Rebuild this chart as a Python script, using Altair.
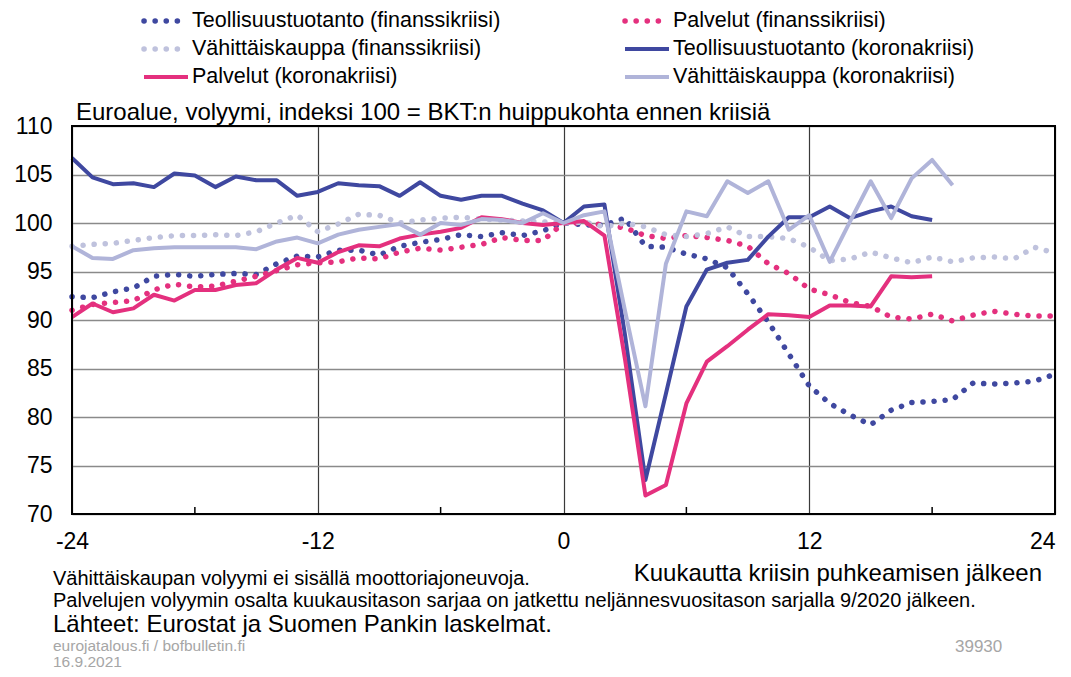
import altair as alt
import pandas as pd

FONT = "Liberation Sans"

# ---------------- data ----------------
months_fin = list(range(-24, 25))
months_teoll_kor = list(range(-24, 19))
months_pal_kor = list(range(-24, 19))
months_vah_kor = list(range(-24, 20))

teoll_fin = [92.4, 92.3, 92.9, 93.3, 94.5, 94.7, 94.5, 94.7, 94.8, 94.7, 95.8, 96.6, 96.5,
             97.2, 97.2, 96.7, 97.6, 98.0, 98.3, 98.8, 98.6, 99.0, 98.7, 99.2,
             100.0,
             99.8, 99.8, 100.5, 97.6, 97.5, 96.8, 96.3, 95.4, 92.7, 89.8, 86.5, 83.2,
             81.4, 80.2, 79.2, 80.7, 81.5, 81.6, 81.8, 83.5, 83.4, 83.5, 83.7, 84.4]
pal_fin = [91.0, 91.6, 91.8, 92.0, 93.1, 93.7, 93.4, 93.5, 94.0, 94.5, 95.1, 95.7, 95.9,
           96.0, 96.4, 96.3, 97.0, 97.4, 97.2, 97.5, 97.8, 98.5, 98.2, 98.2,
           100.0,
           100.0, 99.8, 99.5, 98.7, 98.4, 98.7, 98.5, 98.2, 97.6, 95.8, 94.8, 93.2,
           92.6, 91.8, 91.4, 90.3, 90.1, 90.6, 89.9, 90.5, 90.9, 90.6, 90.4, 90.4]
vah_fin = [97.6, 97.8, 97.9, 98.2, 98.5, 98.7, 98.7, 98.8, 98.7, 99.1, 100.0, 100.8, 99.1,
           99.9, 100.9, 100.8, 100.0, 100.3, 100.5, 100.6, 100.4, 100.3, 100.2, 100.1,
           100.0,
           100.1, 99.6, 100.0, 99.6, 98.8, 98.6, 98.9, 99.6, 98.6, 98.6, 98.4, 97.5,
           96.1, 96.3, 97.0, 96.4, 95.9, 96.5, 96.0, 96.4, 96.5, 96.3, 97.5, 96.9]
teoll_kor = [106.7, 104.7, 104.0, 104.1, 103.7, 105.1, 104.9, 103.7, 104.8, 104.4, 104.4, 102.8, 103.2,
             104.1, 103.9, 103.8, 102.8, 104.2, 102.8, 102.4, 102.8, 102.8, 102.0, 101.3,
             100.0,
             101.7, 101.9, 88.5, 73.5, 82.4, 91.4, 95.2, 95.9, 96.2, 98.6, 100.6, 100.6,
             101.7, 100.5, 101.2, 101.7, 100.7, 100.3]
pal_kor = [90.3, 91.7, 90.8, 91.2, 92.6, 92.0, 93.1, 93.1, 93.6, 93.8, 95.2, 96.4, 95.9,
           97.0, 97.7, 97.6, 98.4, 98.8, 99.1, 99.5, 100.6, 100.4, 100.0, 99.8,
           100.0,
           100.2, 98.7, 86.0, 71.9, 73.0, 81.4, 85.7, 87.3, 89.0, 90.6, 90.5, 90.3,
           91.5, 91.5, 91.4, 94.5, 94.4, 94.5]
vah_kor = [97.6, 96.4, 96.3, 97.2, 97.4, 97.5, 97.5, 97.5, 97.5, 97.3, 98.1, 98.5, 97.9,
           98.8, 99.3, 99.6, 99.9, 98.8, 100.0, 99.8, 100.4, 100.3, 100.0, 101.0,
           100.0,
           100.8, 101.2, 91.0, 81.1, 95.8, 101.2, 100.7, 104.3, 103.1, 104.3, 99.3, 100.8,
           96.0, 100.2, 104.3, 100.5, 104.6, 106.5, 103.9]

S_TF = "Teollisuustuotanto (finanssikriisi)"
S_PF = "Palvelut (finanssikriisi)"
S_VF = "Vähittäiskauppa (finanssikriisi)"
S_TK = "Teollisuustuotanto (koronakriisi)"
S_PK = "Palvelut (koronakriisi)"
S_VK = "Vähittäiskauppa (koronakriisi)"

series_names = [S_TF, S_PF, S_VF, S_TK, S_PK, S_VK]
series_colors = ["#3F48A0", "#E4307E", "#BFC2DD", "#3F48A0", "#E4307E", "#B0B4D9"]

x_ticks = [-24, -12, 0, 12, 24]
y_ticks = [70, 75, 80, 85, 90, 95, 100, 105, 110]
minor_ticks = [-18, -6, 6, 18]

title_text = "Euroalue, volyymi, indeksi 100 = BKT:n huippukohta ennen kriisiä"
x_title = "Kuukautta kriisin puhkeamisen jälkeen"
note1 = "Vähittäiskaupan volyymi ei sisällä moottoriajoneuvoja."
note2 = "Palvelujen volyymin osalta kuukausitason sarjaa on jatkettu neljännesvuositason sarjalla 9/2020 jälkeen."
source = "Lähteet: Eurostat ja Suomen Pankin laskelmat."
site = "eurojatalous.fi / bofbulletin.fi"
date = "16.9.2021"
code = "39930"


def long(name, months, values):
    return pd.DataFrame({"month": months, "value": values, "series": name})


df_fin = pd.concat([long(S_TF, months_fin, teoll_fin),
                    long(S_PF, months_fin, pal_fin),
                    long(S_VF, months_fin, vah_fin)])
df_kor = pd.concat([long(S_TK, months_teoll_kor, teoll_kor),
                    long(S_PK, months_pal_kor, pal_kor),
                    long(S_VK, months_vah_kor, vah_kor)])

W, H = 983, 388
DOT = [0.1, 11]

color_scale = alt.Scale(domain=series_names, range=series_colors)

X = alt.X("month:Q", scale=alt.Scale(domain=[-24, 24], nice=False),
          axis=alt.Axis(values=x_ticks, grid=True, gridColor="#3a3a3a", gridWidth=1.2,
                        domain=False, ticks=False, labelFontSize=23, labelFont=FONT,
                        labelColor="black", labelPadding=16, title=None,
                        labelExpr="'' + datum.value",
                        labelAlign={"condition": {"test": "datum.value == 24", "value": "right"},
                                    "value": "center"}))
Y = alt.Y("value:Q", scale=alt.Scale(domain=[70, 110], nice=False, zero=False),
          axis=alt.Axis(values=y_ticks, grid=True, gridColor="#8a8a8a", gridWidth=1.5,
                        domain=False, ticks=False, labelFontSize=23, labelFont=FONT,
                        labelColor="black", labelPadding=20, title=None))

fin_lines = alt.Chart(df_fin).mark_line(strokeDash=DOT, strokeCap="round", strokeJoin="round",
                                        strokeWidth=5.5).encode(
    x=X, y=Y, color=alt.Color("series:N", scale=color_scale, legend=None), detail="series:N")

kor_lines = alt.Chart(df_kor).mark_line(strokeWidth=4, strokeJoin="round").encode(
    x=X, y=Y, color=alt.Color("series:N", scale=color_scale, legend=None), detail="series:N")

minor = alt.Chart(pd.DataFrame({"month": minor_ticks})).mark_rule(color="black", strokeWidth=1.5).encode(
    x=X, y=alt.value(H - 7), y2=alt.value(H))

border = alt.Chart(alt.Data(values=[{}])).mark_rect(fillOpacity=0, stroke="black", strokeWidth=2).encode(
    x=alt.value(0), x2=alt.value(W), y=alt.value(0), y2=alt.value(H))


def text(txt, x, y, size, color="black", align="left"):
    return alt.Chart(alt.Data(values=[{}])).mark_text(
        text=txt, align=align, baseline="middle", fontSize=size, font=FONT, color=color
    ).encode(x=alt.value(x), y=alt.value(y))


def legend_entry(idx, x0, y):
    name = series_names[idx]
    col = series_colors[idx]
    if "finanssi" in name:
        sym = alt.Chart(alt.Data(values=[{}])).mark_rule(
            color=col, strokeWidth=5.5, strokeDash=DOT, strokeCap="round").encode(
            x=alt.value(x0), x2=alt.value(x0 + 44), y=alt.value(y))
    else:
        sym = alt.Chart(alt.Data(values=[{}])).mark_rule(color=col, strokeWidth=4).encode(
            x=alt.value(x0), x2=alt.value(x0 + 44), y=alt.value(y))
    return [sym, text(name, x0 + 48, y, 21.5)]


legend_layers = []
slots = [(0, 72, -105), (1, 553, -105), (2, 72, -77), (3, 553, -77), (4, 72, -49), (5, 553, -49)]
for idx, x0, y in slots:
    legend_layers += legend_entry(idx, x0, y)

texts = [
    text(title_text, 4, -13, 24),
    text(x_title, 970, 448, 24, align="right"),
    text(note1, -19, 453, 20),
    text(note2, -19, 475, 20),
    text(source, -19, 499, 24),
    text(site, -19, 520, 15.5, color="#a6a6a6"),
    text(date, -19, 536, 15.5, color="#a6a6a6"),
    text(code, 883, 521, 17, color="#a6a6a6"),
]

chart = alt.layer(minor, fin_lines, kor_lines, border, *legend_layers, *texts).properties(
    width=W, height=H,
    autosize=alt.AutoSizeParams(type="none"),
    padding={"left": 64, "top": 118, "right": 8, "bottom": 155},
).configure_view(stroke=None).configure(background="white")

chart.save("out.html", embed_options={"renderer": "svg", "actions": False})
